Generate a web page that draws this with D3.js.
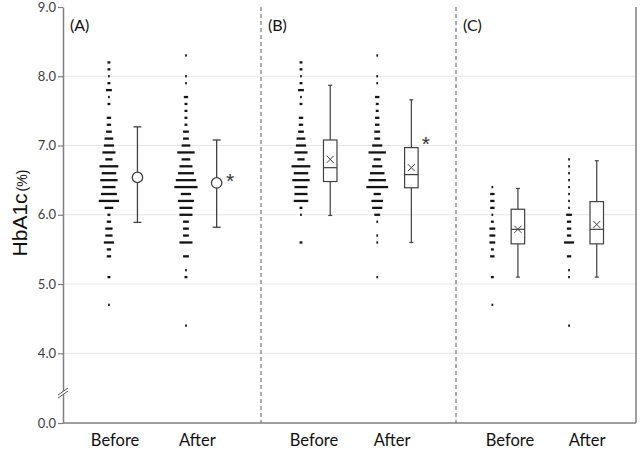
<!DOCTYPE html>
<html><head><meta charset="utf-8">
<script src="https://cdn.jsdelivr.net/npm/d3@7"></script>
<style>
html,body{margin:0;padding:0;background:#fff;}
svg{display:block;}
</style></head>
<body>
<svg id="chart" width="643" height="450"></svg>
<script>
// ---------- DATA ----------
const panels = ["(A)", "(B)", "(C)"];
const conditions = ["Before", "After"];
const yTicks = [0, 4, 5, 6, 7, 8, 9];
const levels = [8.3,8.2,8.1,8.0,7.9,7.8,7.7,7.6,7.5,7.4,7.3,7.2,7.1,7.0,6.9,6.8,6.7,6.6,6.5,6.4,
                6.3,6.2,6.1,6.0,5.9,5.8,5.7,5.6,5.5,5.4,5.3,5.2,5.1,5.0,4.9,4.8,4.7,4.6,4.5,4.4];
// number of patients at each HbA1c level (dot strips)
const countsA_before = [0,2,2,1,2,4,1,2,0,3,3,4,6,7,9,5,13,10,12,9,11,14,6,2,3,5,5,7,3,3,0,0,2,0,0,0,1,0,0,0];
const countsA_after  = [1,0,0,1,1,0,3,2,2,2,2,4,4,6,12,6,9,11,14,16,7,11,9,9,4,4,4,9,0,4,0,1,2,0,0,0,0,0,0,1];
const countsB_before = [0,2,2,1,2,4,1,2,0,3,3,4,6,7,9,5,13,10,12,9,9,10,2,1,0,0,0,2,0,0,0,0,0,0,0,0,0,0,0,0];
const countsB_after  = [1,0,0,1,1,0,3,2,2,3,3,4,4,7,12,5,7,10,12,15,5,8,7,4,1,0,1,1,0,0,0,0,1,0,0,0,0,0,0,0];
const countsC_before = [0,0,0,0,0,0,0,0,0,0,0,0,0,0,0,0,0,0,0,1,3,3,3,1,2,4,4,4,2,3,0,0,2,0,0,0,1,0,0,0];
const countsC_after  = [0,0,0,0,0,0,0,0,0,0,0,0,0,0,0,1,1,1,1,1,1,1,1,4,3,3,3,7,0,3,0,1,1,0,0,0,0,0,0,1];
// (A) mean ± SD
const meanA   = [6.54, 6.46];
const sdLowA  = [5.89, 5.82];
const sdHighA = [7.27, 7.08];
// (B) box plots
const minB = [5.99, 5.60], q1B = [6.48, 6.39], medB = [6.68, 6.58], q3B = [7.08, 6.97], maxB = [7.87, 7.66], meanB = [6.80, 6.68];
// (C) box plots
const minC = [5.10, 5.10], q1C = [5.58, 5.58], medC = [5.79, 5.79], q3C = [6.08, 6.19], maxC = [6.38, 6.78], meanC = [5.79, 5.86];
// significance marks (After vs Before)
const sigA = ["", "*"], sigB = ["", "*"], sigC = ["", ""];

// ---------- LAYOUT ----------
const svg = d3.select("#chart");
const axisColor = "#7f7f7f";
const font = "Lato, 'Liberation Sans', sans-serif";

const y = d3.scaleLinear().domain([0, 4, 9]).range([423, 353.3, 7]);
const x = d3.scaleLinear().domain([0, 1, 2, 3]).range([63, 261, 456, 636]);
// relative positions within each panel
const dotFrac = [[0.232, 0.621], [0.205, 0.596], [0.202, 0.628]];
const sumFrac = [[0.376, 0.776], [0.355, 0.771], [0.344, 0.782]];
const labFrac = [[0.263, 0.679], [0.272, 0.672], [0.300, 0.728]];

const strips = [[countsA_before, countsA_after], [countsB_before, countsB_after], [countsC_before, countsC_after]];

// gridlines
svg.append("g").selectAll("line").data(yTicks.filter(d => d >= 4 && d < 9)).join("line")
  .attr("x1", x(0)).attr("x2", x(3)).attr("y1", d => y(d)).attr("y2", d => y(d))
  .attr("stroke", "#e6e6e6").attr("stroke-width", 1);

// panel dividers
svg.append("g").selectAll("line").data([1, 2]).join("line")
  .attr("x1", d => x(d)).attr("x2", d => x(d)).attr("y1", y(9)).attr("y2", y(0))
  .attr("stroke", "#5a5a5a").attr("stroke-width", 1).attr("stroke-dasharray", "4,3");

// dot strips
const unit = 1.45, barH = 2.3;
strips.forEach((pair, p) => {
  pair.forEach((counts, c) => {
    const cx = x(p + dotFrac[p][c]);
    const rows = levels.map((v, i) => ({v, n: counts[i]})).filter(d => d.n > 0);
    svg.append("g").selectAll("rect").data(rows).join("rect")
      .attr("x", d => cx - Math.max(1.7, d.n * unit) / 2)
      .attr("width", d => Math.max(1.7, d.n * unit))
      .attr("y", d => y(d.v) - barH / 2).attr("height", barH)
      .attr("fill", "#141414");
  });
});

const lineCol = "#404040";
// (A) mean ± SD
conditions.forEach((cond, c) => {
  const cx = x(0 + sumFrac[0][c]);
  const g = svg.append("g").attr("stroke", lineCol).attr("stroke-width", 1.3);
  g.append("line").attr("x1", cx).attr("x2", cx).attr("y1", y(sdHighA[c])).attr("y2", y(sdLowA[c]));
  [sdHighA[c], sdLowA[c]].forEach(v => g.append("line").attr("x1", cx - 4).attr("x2", cx + 4).attr("y1", y(v)).attr("y2", y(v)));
  g.append("circle").attr("cx", cx).attr("cy", y(meanA[c])).attr("r", 5.2).attr("fill", "#fff");
});

// box plots
function boxes(p, mn, q1, md, q3, mx, mean) {
  conditions.forEach((cond, c) => {
    const cx = x(p + sumFrac[p][c]);
    const w = 13.5;
    const g = svg.append("g").attr("stroke", lineCol).attr("stroke-width", 1.2).attr("fill", "none");
    g.append("line").attr("x1", cx).attr("x2", cx).attr("y1", y(mx[c])).attr("y2", y(q3[c]));
    g.append("line").attr("x1", cx).attr("x2", cx).attr("y1", y(q1[c])).attr("y2", y(mn[c]));
    [mx[c], mn[c]].forEach(v => g.append("line").attr("x1", cx - 2).attr("x2", cx + 2).attr("y1", y(v)).attr("y2", y(v)));
    g.append("rect").attr("x", cx - w / 2).attr("width", w).attr("y", y(q3[c])).attr("height", y(q1[c]) - y(q3[c])).attr("fill", "#fff");
    g.append("line").attr("x1", cx - w / 2).attr("x2", cx + w / 2).attr("y1", y(md[c])).attr("y2", y(md[c]));
    const my = y(mean[c]), s = 3.5;
    g.append("path").attr("d", `M${cx - s},${my - s}L${cx + s},${my + s}M${cx - s},${my + s}L${cx + s},${my - s}`).attr("stroke-width", 1);
  });
}
boxes(1, minB, q1B, medB, q3B, maxB, meanB);
boxes(2, minC, q1C, medC, q3C, maxC, meanC);

// significance asterisks
const astFont = "'Liberation Sans', Arial, sans-serif";
svg.append("text").attr("x", x(0 + sumFrac[0][1]) + 13.5).attr("y", y(meanA[1]) + 5)
  .attr("font-family", astFont).attr("font-size", 21).attr("fill", "#333").attr("text-anchor", "middle").text(sigA[1]);
svg.append("text").attr("x", x(1 + sumFrac[1][1]) + 14.5).attr("y", y(q3B[1]) + 3.5)
  .attr("font-family", astFont).attr("font-size", 21).attr("fill", "#333").attr("text-anchor", "middle").text(sigB[1]);

// y axis
const yAxis = d3.axisLeft(y).tickValues(yTicks).tickFormat(d3.format(".1f")).tickSize(5).tickSizeOuter(0);
const ya = svg.append("g").attr("transform", `translate(${x(0)},0)`).call(yAxis);
ya.select(".domain").attr("stroke", axisColor).attr("stroke-width", 1.5);
ya.selectAll(".tick line").attr("stroke", axisColor).attr("stroke-width", 1.2);
ya.selectAll(".tick text").attr("font-family", font).attr("font-size", 13).attr("fill", "#404040").attr("x", -7);

// bottom and right frame
svg.append("line").attr("x1", x(0)).attr("x2", x(3)).attr("y1", y(0)).attr("y2", y(0)).attr("stroke", axisColor).attr("stroke-width", 1.5);
svg.append("line").attr("x1", x(3)).attr("x2", x(3)).attr("y1", y(9)).attr("y2", y(0)).attr("stroke", axisColor).attr("stroke-width", 1.5);

// axis break
const by = 391;
const brk = svg.append("g");
brk.append("path").attr("d", `M${x(0) - 5},${by + 4}L${x(0) + 5},${by - 3}L${x(0) + 5},${by}L${x(0) - 5},${by + 7}Z`).attr("fill", "#fff");
brk.append("line").attr("x1", x(0) - 5).attr("y1", by + 4).attr("x2", x(0) + 5).attr("y2", by - 3).attr("stroke", "#555").attr("stroke-width", 1);
brk.append("line").attr("x1", x(0) - 5).attr("y1", by + 7).attr("x2", x(0) + 5).attr("y2", by).attr("stroke", "#555").attr("stroke-width", 1);

// category labels
panels.forEach((pn, p) => {
  conditions.forEach((cond, c) => {
    svg.append("text").attr("x", x(p + labFrac[p][c])).attr("y", 446)
      .attr("font-family", font).attr("font-size", 16.5).attr("fill", "#111").attr("text-anchor", "middle").text(cond);
  });
  svg.append("text").attr("x", x(p) + 7).attr("y", 31)
    .attr("font-family", font).attr("font-size", 16).attr("fill", "#111").text(pn);
});

// y title
const yt = svg.append("text").attr("transform", `translate(27,${(y(9) + y(0)) / 2 - 2}) rotate(-90)`)
  .attr("text-anchor", "middle").attr("fill", "#111").attr("font-family", "'Liberation Sans', Arial, sans-serif");
yt.append("tspan").attr("font-size", 21).text("HbA1c");
yt.append("tspan").attr("font-size", 14).attr("dx", 2).text("(%)");
</script>
</body></html>
